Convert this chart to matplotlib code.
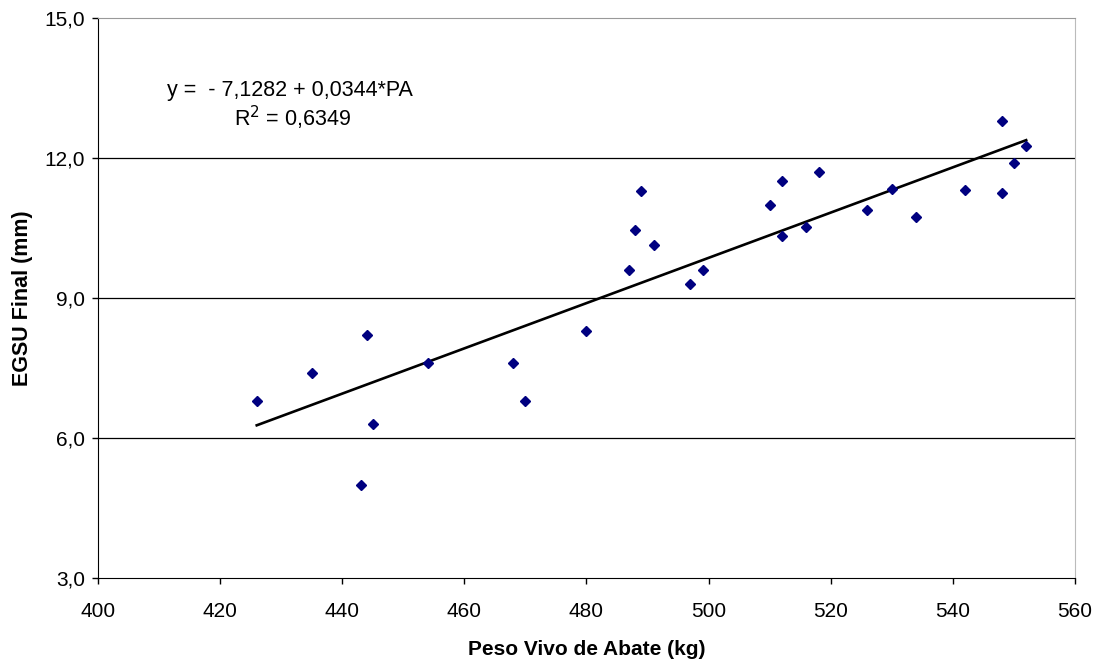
import numpy as np
import matplotlib
matplotlib.use("Agg")
import matplotlib.pyplot as plt

plt.rcParams['font.family'] = ['Liberation Sans', 'DejaVu Sans']

# Peso vivo de abate (kg) e EGSU final (mm)
peso = [426, 435, 443, 444, 445, 454, 468, 470, 480, 487, 488, 489, 491, 497,
        499, 510, 512, 512, 516, 518, 526, 530, 534, 542, 548, 548, 550, 552]
egsu = [6.8, 7.4, 5.0, 8.2, 6.3, 7.6, 7.6, 6.8, 8.3, 9.6, 10.45, 11.3, 10.13, 9.3,
        9.6, 11.0, 11.5, 10.32, 10.52, 11.7, 10.89, 11.34, 10.74, 11.31, 12.8, 11.25,
        11.9, 12.26]

x_ticks = [400, 420, 440, 460, 480, 500, 520, 540, 560]
y_ticks = [3.0, 6.0, 9.0, 12.0, 15.0]

fig = plt.figure(figsize=(11.02, 6.61), dpi=100)
ax = fig.add_axes([0.0889, 0.1256, 0.8866, 0.8472])

ax.set_xlim(400, 560)
ax.set_ylim(3, 15)
ax.set_xticks(x_ticks)
ax.set_yticks(y_ticks)
ax.set_yticklabels([f"{v:.1f}".replace(".", ",") for v in y_ticks])
ax.tick_params(labelsize=15, direction='out', length=4.3, width=1)
ax.tick_params(axis='x', pad=13)
ax.tick_params(axis='y', pad=5)

for v in y_ticks[1:-1]:
    ax.axhline(v, color='black', lw=0.9, zorder=1)

ax.spines['top'].set_color('#999999')
ax.spines['right'].set_color('#bbbbbb')

# reta de regressao
coef = np.polyfit(peso, egsu, 1)
xs = np.array([min(peso), max(peso)])
ax.plot(xs, np.polyval(coef, xs), color='black', lw=1.9, zorder=2)

ax.plot(peso, egsu, linestyle='none', marker='D', markersize=5.5,
        color='#000080', zorder=3)

ax.text(0.0706, 0.861, "y =  - 7,1282 + 0,0344*PA", transform=ax.transAxes,
        fontsize=15.5, va='baseline')
ax.text(0.1996, 0.806, "R$^2$ = 0,6349", transform=ax.transAxes,
        fontsize=15.5, va='baseline', ha='center')

ax.set_xlabel("Peso Vivo de Abate (kg)", fontsize=15, fontweight='bold', va='center')
ax.xaxis.set_label_coords(0.5, -0.127)
ax.set_ylabel("EGSU Final (mm)", fontsize=15.5, fontweight='bold', va='center')
ax.yaxis.set_label_coords(-0.077, 0.5)

fig.savefig("out.png", dpi=100)
